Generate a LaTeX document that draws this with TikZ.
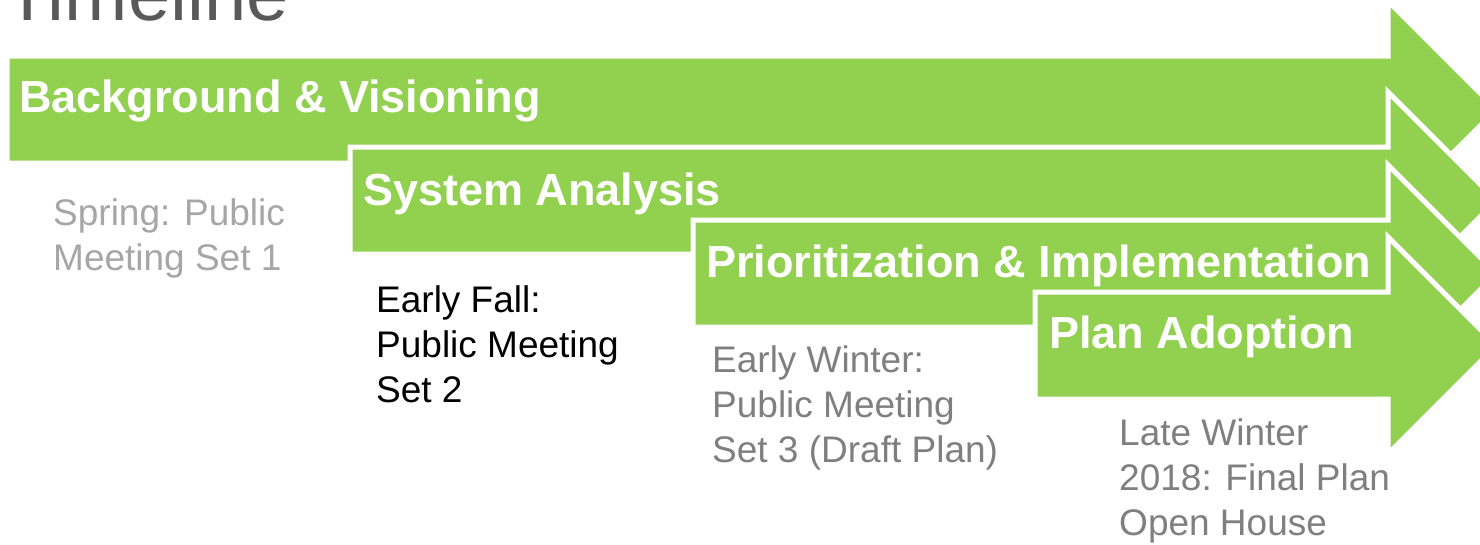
\documentclass[tikz,border=0pt]{standalone}
\usepackage{fontspec}
\setmainfont{Liberation Sans}
\definecolor{phaseGreen}{RGB}{146,208,80}
\definecolor{titleGray}{RGB}{89,89,89}
\definecolor{lightNote}{RGB}{166,166,166}
\definecolor{darkNote}{RGB}{127,127,127}
\tikzstyle{timeline} = [x = 1pt, y = -1pt]
\tikzstyle{phaseArrowStyle} = [fill=phaseGreen, draw=white, line width=5pt, line join=miter]
\tikzstyle{phaseText} = [font=\fontsize{45}{54}\selectfont\bfseries, text=white, anchor=base west, inner sep=0]
\tikzstyle{noteText} = [font=\fontsize{37}{45}\selectfont, anchor=base west, inner sep=0, align=left]
\newcommand{\shaftEnd}{1388}
\newcommand{\shaftHeight}{107}
\newcommand{\phaseArrow}[2]{\filldraw [phaseArrowStyle] (#1, #2) -- (\shaftEnd, #2) -- (\shaftEnd, #2 - 55) -- (\shaftEnd + 108.5, #2 + 53.5) -- (\shaftEnd, #2 + 162) -- (\shaftEnd, #2 + \shaftHeight) -- (#1, #2 + \shaftHeight) -- cycle;}
\begin{document}
\begin{tikzpicture}[timeline]
  \useasboundingbox (0, 0) rectangle (1480, 544);
  \node [anchor=base west, inner sep=0, text=titleGray, font=\fontsize{76}{90}\selectfont] (title) at (4, 20) {Timeline};
  % phases, later ones on top
  \phaseArrow{7}{56}
  \node [phaseText] (background) at (19, 112) {Background \& Visioning};
  \phaseArrow{350}{147}
  \node [phaseText] (analysis) at (363, 205) {System Analysis};
  \phaseArrow{693}{220}
  \node [phaseText] (priorities) at (706, 277) {Prioritization \& Implementation};
  \phaseArrow{1035}{292}
  \node [phaseText] (adoption) at (1049, 348) {Plan Adoption};
  % meetings (base = last line)
  \node [noteText, text=lightNote] (springNote) at (53, 270) {Spring: Public\\Meeting Set 1};
  \node [noteText, text=black] (fallNote) at (376, 402) {Early Fall:\\Public Meeting\\Set 2};
  \node [noteText, text=darkNote] (winterNote) at (712, 462) {Early Winter:\\Public Meeting\\Set 3 (Draft Plan)};
  \node [noteText, text=darkNote] (finalNote) at (1119, 535) {Late Winter\\2018: Final Plan\\Open House};
\end{tikzpicture}
\end{document}
